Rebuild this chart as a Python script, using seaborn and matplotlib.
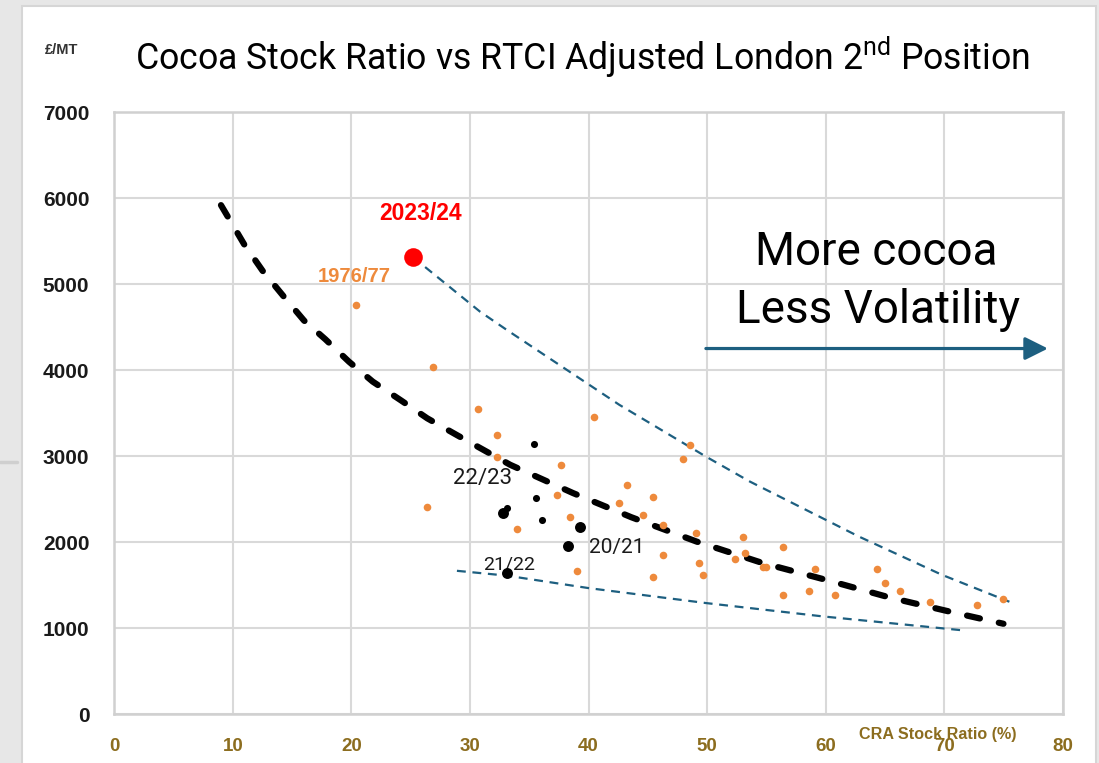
import matplotlib
matplotlib.use('Agg')
import matplotlib.pyplot as plt
import seaborn as sns
import pandas as pd
from matplotlib.patches import Rectangle
from matplotlib.lines import Line2D

# Historical seasons (orange dots): CRA stock ratio (%) vs adjusted price (GBP/MT)
hist_x = [20.35, 26.9, 30.7, 32.3, 32.25, 26.4, 40.5, 37.7, 37.3, 38.4,
          33.95, 39.05, 43.25, 42.55, 45.4, 44.6, 46.3, 46.3, 45.4, 48.6,
          47.95, 49.1, 49.3, 49.65, 53.0, 53.2, 52.35, 54.7, 55.0, 56.4,
          56.4, 59.1, 58.6, 60.8, 64.3, 65.0, 66.3, 68.8, 72.8, 75.0]
hist_y = [4756, 4035, 3547, 3244, 2988, 2407, 3453, 2895, 2547, 2291,
          2151, 1663, 2663, 2453, 2523, 2314, 2201, 1849, 1593, 3131,
          2965, 2105, 1756, 1616, 2058, 1872, 1802, 1709, 1709, 1942,
          1384, 1686, 1430, 1384, 1686, 1523, 1432, 1298, 1267, 1337]

# Recent seasons (black dots)
recent_small_x = [35.4, 35.55, 36.1, 33.15]
recent_small_y = [3143, 2515, 2256, 2391]
recent_big_x = [32.75, 39.3, 38.3, 33.1]
recent_big_y = [2337, 2170, 1960, 1640]

# Current season
cur_x = [25.2]
cur_y = [5314]

# Trend line (thick black dashes)
trend_x = [9.0, 10.95, 12.5, 14.3, 16.0, 17.8, 19.8, 21.8, 24.2, 26.4,
           28.9, 33.4, 38.7, 43.6, 49.1, 54.7, 60.0, 65.5, 71.1, 75.0]
trend_y = [5920, 5465, 5158, 4856, 4578, 4360, 4098, 3867, 3647, 3440,
           3245, 2899, 2570, 2290, 2007, 1756, 1562, 1352, 1171, 1050]

# Envelope lines (blue dashes)
upper_x = [25.2, 30.85, 33.1, 42.6, 49.9, 53.6, 62.8, 69.8, 75.5]
upper_y = [5314, 4681, 4469, 3597, 2995, 2705, 2065, 1620, 1306]
lower_x = [28.9, 33.1, 40.0, 49.9, 59.8, 71.6]
lower_y = [1666, 1610, 1465, 1291, 1135, 973]

x_ticks = [0, 10, 20, 30, 40, 50, 60, 70, 80]
y_ticks = [0, 1000, 2000, 3000, 4000, 5000, 6000, 7000]

orange = '#EE8A3C'
blue = '#1D5F80'
olive = '#8C6D1F'

sns.set_style('white')
plt.rcParams['mathtext.fontset'] = 'custom'
plt.rcParams['mathtext.rm'] = 'Roboto'

fig = plt.figure(figsize=(10.99, 7.63), dpi=100, facecolor='#e7e7e7')
fig.patches.append(Rectangle((22 / 1099, -0.01), (1096 - 22) / 1099, 1.01 - 6 / 763,
                             transform=fig.transFigure, facecolor='white',
                             edgecolor='#d6d6d6', linewidth=1.5, zorder=-10))
fig.lines.append(Line2D([0, 17 / 1099], [1 - 462 / 763] * 2, transform=fig.transFigure,
                        color='#cfcfcf', linewidth=2.5, zorder=-5))

ax = fig.add_axes([0.104, 0.0642, 0.863, 0.7886])
ax.set_facecolor('white')

# lines
sns.lineplot(x=upper_x, y=upper_y, sort=False, estimator=None, ax=ax, color=blue,
             linewidth=1.6, linestyle=(0, (4, 3)), zorder=2)
sns.lineplot(x=lower_x, y=lower_y, sort=False, estimator=None, ax=ax, color=blue,
             linewidth=1.6, linestyle=(0, (4, 3)), zorder=2)
sns.lineplot(x=trend_x, y=trend_y, sort=False, estimator=None, ax=ax, color='black',
             linewidth=4.5, linestyle=(0, (2.1, 3.1)), dash_capstyle='round', zorder=3)

# points
sns.scatterplot(x=hist_x, y=hist_y, ax=ax, color=orange, s=30, linewidth=0, zorder=4)
sns.scatterplot(x=recent_small_x, y=recent_small_y, ax=ax, color='black', s=26,
                linewidth=0, zorder=5)
sns.scatterplot(x=recent_big_x, y=recent_big_y, ax=ax, color='black', s=62,
                linewidth=0, zorder=5)
sns.scatterplot(x=cur_x, y=cur_y, ax=ax, color='#FF0000', s=180, linewidth=0, zorder=5)

ax.set_xlim(0, 80)
ax.set_ylim(0, 7000)
ax.set_xticks(x_ticks)
ax.set_xticklabels([str(v) for v in x_ticks], fontfamily='Liberation Sans',
                   fontweight='bold', fontsize=13.5, color=olive)
ax.set_yticks(y_ticks)
ax.set_yticklabels([str(v) for v in y_ticks], fontfamily='Liberation Sans',
                   fontweight='bold', fontsize=15, color='#1a1a1a')
ax.tick_params(axis='x', length=0, pad=17)
ax.tick_params(axis='y', length=0, pad=18)
ax.grid(True, color='#d9d9d9', linewidth=1.5)
ax.set_axisbelow(True)
for sp in ax.spines.values():
    sp.set_color('#d0d0d0')
    sp.set_linewidth(1.8)

# texts
fig.text(135 / 1099, 1 - 57 / 763,
         r'Cocoa Stock Ratio vs RTCI Adjusted London 2$^{\mathrm{nd}}$ Position',
         family='Roboto', fontsize=25.7, ha='left', va='center', color='black')
fig.text(62 / 1099, 1 - 50 / 763, '£/MT', family='Liberation Sans', fontsize=10.5,
         fontweight='bold', ha='center', va='center', color='#333333')

ax.text(25.8, 5822, '2023/24', family='Liberation Sans', fontweight='bold',
        fontsize=16.5, color='#FF0000', ha='center', va='center')
ax.text(20.2, 5085, '1976/77', family='Liberation Sans', fontweight='bold',
        fontsize=14.5, color=orange, ha='center', va='center')
ax.text(31.1, 2744, '22/23', family='Roboto', fontsize=16, color='#1a1a1a',
        ha='center', va='center')
ax.text(42.4, 1936, '20/21', family='Roboto', fontsize=15, color='#1a1a1a',
        ha='center', va='center')
ax.text(33.3, 1744, '21/22', family='Roboto', fontsize=14, color='#1a1a1a',
        ha='center', va='center')

ax.text(64.25, 5375, 'More cocoa', family='Roboto', fontsize=33, ha='center',
        va='center', color='black')
ax.text(64.4, 4698, 'Less Volatility', family='Roboto', fontsize=33, ha='center',
        va='center', color='black')
ax.annotate('', xy=(78.75, 4252), xytext=(49.9, 4252),
            arrowprops=dict(arrowstyle='-|>,head_length=0.7,head_width=0.35',
                            color=blue, lw=2.3, mutation_scale=20,
                            shrinkA=0, shrinkB=0))

fig.text(937.5 / 1099, 1 - 735 / 763, 'CRA Stock Ratio (%)',
         family=['Liberation Sans Narrow', 'Liberation Sans'], fontweight='bold',
         fontsize=11.6, color=olive, ha='center', va='center')

fig.savefig('out.png', dpi=100, facecolor=fig.get_facecolor())
